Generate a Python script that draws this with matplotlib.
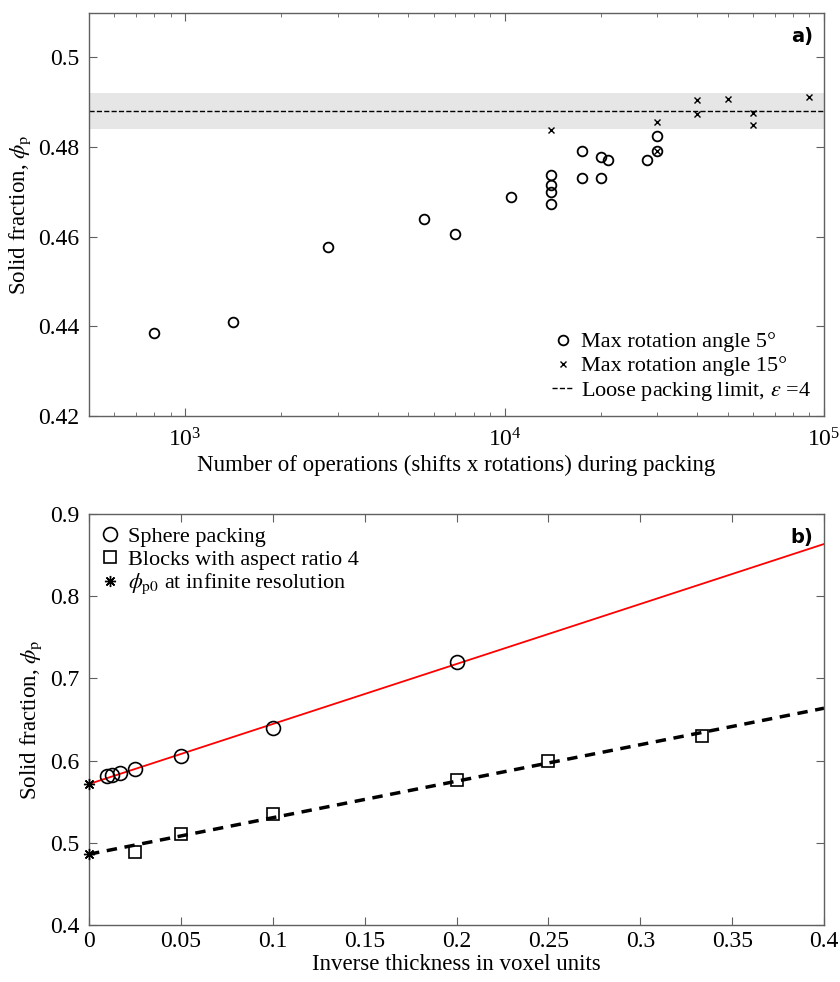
import numpy as np
import matplotlib
matplotlib.use("Agg")
import matplotlib.pyplot as plt

plt.rcParams['font.family'] = ['Liberation Serif', 'DejaVu Serif']
plt.rcParams['mathtext.fontset'] = 'stix'

# panel a) data
ops_5deg = [800, 1410, 2800, 5600, 7000, 10500, 14000, 14000, 14000, 14000,
            17500, 17500, 20000, 20000, 21000, 28000, 30000, 30000]
phi_5deg = [0.4386, 0.4409, 0.4578, 0.4639, 0.4607, 0.4689, 0.4738, 0.4715,
            0.4699, 0.4673, 0.4792, 0.4730, 0.4777, 0.4730, 0.4772, 0.4772,
            0.4824, 0.4792]
ops_15deg = [14000, 30000, 30000, 40000, 40000, 50000, 60000, 60000, 90000]
phi_15deg = [0.4839, 0.4855, 0.4791, 0.4906, 0.4874, 0.4908, 0.4876, 0.4850, 0.4912]
loose_limit = 0.488
loose_band = (0.484, 0.492)

# panel b) data
inv_sphere = [0.01, 0.0125, 1/60, 0.025, 0.05, 0.1, 0.2]
phi_sphere = [0.5813, 0.5826, 0.585, 0.5903, 0.6061, 0.6394, 0.7197]
inv_block = [0.025, 0.05, 0.1, 0.2, 0.25, 1/3]
phi_block = [0.489, 0.5113, 0.5357, 0.5765, 0.599, 0.630]
sphere_fit = (0.5716, 0.730)   # intercept, slope
block_fit = (0.4862, 0.444)

fig = plt.figure(figsize=(8.4, 9.82), dpi=100)
ax1 = fig.add_axes([0.106, 0.5764, 0.875, 0.4107])
ax2 = fig.add_axes([0.106, 0.058, 0.875, 0.4185])

spine_col = '#606060'
for ax in (ax1, ax2):
    for s in ax.spines.values():
        s.set_color(spine_col)
        s.set_linewidth(1.0)
    ax.tick_params(which='both', direction='in', top=True, right=True,
                   color=spine_col, labelsize=17)
    ax.tick_params(which='major', length=6)
    ax.tick_params(axis='y', pad=7)
ax1.tick_params(axis='x', pad=9)
ax2.tick_params(axis='x', pad=4)

# ---- panel a
ax1.axhspan(loose_band[0], loose_band[1], color='#e6e6e6', lw=0, zorder=0)
ax1.plot(ops_5deg, phi_5deg, 'o', mfc='none', mec='black', mew=1.3, ms=7,
         label='Max rotation angle 5°')
ax1.plot(ops_15deg, phi_15deg, 'x', color='black', mew=1.0, ms=5,
         label='Max rotation angle 15°')
ax1.axhline(loose_limit, color='black', ls='--', lw=1.0,
            label=r'Loose packing limit, $\epsilon$ =4')
ax1.set_xscale('log')
ax1.set_xlim(500, 1e5)
ax1.set_ylim(0.42, 0.51)
ax1.set_yticks([0.42, 0.44, 0.46, 0.48, 0.5])
ax1.set_yticklabels(['0.42', '0.44', '0.46', '0.48', '0.5'])
ax1.tick_params(which='minor', length=3)
ax1.set_xlabel('Number of operations (shifts x rotations) during packing',
               fontsize=16.5, labelpad=2)
ax1.set_ylabel(r'Solid fraction, $\phi_{\rm p}$', fontsize=16.5)
ax1.legend(loc='lower right', frameon=False, fontsize=16, handlelength=1.0,
           handletextpad=0.3, labelspacing=0.15, borderaxespad=0.2)
ax1.text(0.985, 0.965, 'a)', transform=ax1.transAxes, ha='right', va='top',
         fontsize=14, fontweight='bold', family='DejaVu Sans')

# ---- panel b
xx = np.array([0, 0.4])
ax2.plot(xx, sphere_fit[0] + sphere_fit[1] * xx, color='red', lw=1.3)
ax2.plot(xx, block_fit[0] + block_fit[1] * xx, color='black', lw=2.5,
         ls=(0, (3, 2.2)))
ax2.plot(inv_sphere, phi_sphere, 'o', mfc='none', mec='black', mew=1.2, ms=10,
         label='Sphere packing')
ax2.plot(inv_block, phi_block, 's', mfc='none', mec='black', mew=1.2, ms=9,
         label='Blocks with aspect ratio 4')
ax2.plot([0, 0], [sphere_fit[0], block_fit[0]], ls='none', marker=(8, 2, 0),
         color='black', ms=8, mew=1.0, clip_on=False, zorder=5,
         label=r'$\phi_{\rm p0}$ at infinite resolution')
ax2.set_xlim(0, 0.4)
ax2.set_ylim(0.4, 0.9)
ax2.set_xticks(np.arange(0, 0.41, 0.05))
ax2.set_xticklabels(['0', '0.05', '0.1', '0.15', '0.2', '0.25', '0.3', '0.35', '0.4'])
ax2.set_yticks(np.arange(0.4, 0.91, 0.1))
ax2.set_yticklabels(['0.4', '0.5', '0.6', '0.7', '0.8', '0.9'])
ax2.set_xlabel('Inverse thickness in voxel units', fontsize=16.5, labelpad=2)
ax2.set_ylabel(r'Solid fraction, $\phi_{\rm p}$', fontsize=16.5)
ax2.legend(loc='upper left', frameon=False, fontsize=16, handlelength=0.8,
           handletextpad=0.4, labelspacing=0.1, borderaxespad=0.15)
ax2.text(0.985, 0.965, 'b)', transform=ax2.transAxes, ha='right', va='top',
         fontsize=14, fontweight='bold', family='DejaVu Sans')

fig.savefig('out.png', dpi=100)
